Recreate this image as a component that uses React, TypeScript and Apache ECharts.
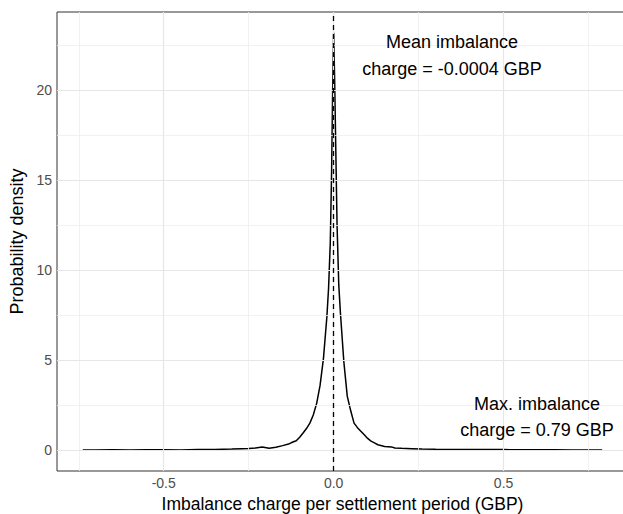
import React, { useEffect, useRef } from "react";
import * as echarts from "echarts";

const densityX = [-0.738, -0.7, -0.65, -0.6, -0.55, -0.5, -0.45, -0.4, -0.35, -0.3, -0.27, -0.25, -0.23, -0.21, -0.19, -0.17, -0.15, -0.13, -0.12, -0.11, -0.1, -0.09, -0.08, -0.07, -0.06, -0.05, -0.04, -0.03, -0.02, -0.015, -0.01, -0.006, -0.003, 0, 0.003, 0.006, 0.01, 0.015, 0.02, 0.03, 0.04, 0.05, 0.06, 0.07, 0.08, 0.09, 0.1, 0.11, 0.12, 0.13, 0.15, 0.17, 0.18, 0.2, 0.23, 0.26, 0.3, 0.35, 0.4, 0.45, 0.5, 0.55, 0.6, 0.65, 0.7, 0.75, 0.79];
const densityY = [0.01, 0.01, 0.02, 0.01, 0.02, 0.02, 0.01, 0.03, 0.04, 0.06, 0.08, 0.09, 0.12, 0.17, 0.11, 0.16, 0.25, 0.36, 0.45, 0.52, 0.72, 0.95, 1.2, 1.5, 1.95, 2.6, 3.6, 5.1, 7.4, 9.0, 11.5, 15.5, 20.0, 23.2, 20.5, 17.0, 12.5, 9.2, 7.6, 4.9, 3.0, 2.2, 1.5, 1.25, 1.05, 0.85, 0.65, 0.5, 0.4, 0.3, 0.2, 0.18, 0.12, 0.1, 0.08, 0.06, 0.05, 0.04, 0.04, 0.03, 0.03, 0.02, 0.02, 0.02, 0.01, 0.01, 0.01];

const meanCharge = -0.0004;
const xMajorTicks = [-0.5, 0, 0.5];
const xMinorTicks = [-0.75, -0.25, 0.25, 0.75];
const yMajorTicks = [0, 5, 10, 15, 20];
const yMinorTicks = [2.5, 7.5, 12.5, 17.5, 22.5];
const annotationMean = ["Mean imbalance", "charge = -0.0004 GBP"];
const annotationMax = ["Max. imbalance", "charge = 0.79 GBP"];

const FONT = "'Liberation Sans', Arial, Helvetica, sans-serif";

export default function App() {
  const ref = useRef<HTMLDivElement>(null);
  useEffect(() => {
    if (!ref.current) return;
    const chart = echarts.init(ref.current, null, { renderer: "svg" });
    const gridLines = [
      ...xMajorTicks.map((v) => ({ xAxis: v, lineStyle: { color: "#e6e6e6", width: 1.2, type: "solid" } })),
      ...xMinorTicks.map((v) => ({ xAxis: v, lineStyle: { color: "#eeeeee", width: 0.8, type: "solid" } })),
      ...yMajorTicks.map((v) => ({ yAxis: v, lineStyle: { color: "#e6e6e6", width: 1.2, type: "solid" } })),
      ...yMinorTicks.map((v) => ({ yAxis: v, lineStyle: { color: "#eeeeee", width: 0.8, type: "solid" } })),
    ];
    chart.setOption({
      animation: false,
      textStyle: { fontFamily: FONT },
      grid: {
        left: 57,
        top: 12,
        right: -5,
        bottom: 43,
        show: true,
        borderColor: "#333333",
        borderWidth: 1,
        backgroundColor: "transparent",
        containLabel: false,
        outerBoundsMode: "none",
      },
      xAxis: {
        type: "value",
        min: -0.814,
        max: 0.866,
        axisLine: { show: false },
        splitLine: { show: false },
        axisTick: { show: true, customValues: xMajorTicks, length: 3.5, lineStyle: { color: "#333333", width: 1 } },
        axisLabel: {
          customValues: xMajorTicks,
          formatter: (v: number) => v.toFixed(1),
          color: "#4d4d4d",
          fontSize: 14,
          margin: 5,
          fontFamily: FONT,
        },
        name: "Imbalance charge per settlement period (GBP)",
        nameLocation: "middle",
        nameGap: 23,
        nameTextStyle: { color: "#000", fontSize: 17.5, fontFamily: FONT },
      },
      yAxis: {
        type: "value",
        min: -1.16,
        max: 24.36,
        axisLine: { show: false },
        splitLine: { show: false },
        axisTick: { show: true, customValues: yMajorTicks, length: 3.5, lineStyle: { color: "#333333", width: 1 } },
        axisLabel: {
          customValues: yMajorTicks,
          formatter: (v: number) => String(v),
          color: "#4d4d4d",
          fontSize: 14,
          margin: 5,
          fontFamily: FONT,
        },
        name: "Probability density",
        nameLocation: "middle",
        nameGap: 31,
        nameTextStyle: { color: "#000", fontSize: 18, fontFamily: FONT },
      },
      series: [
        {
          type: "line",
          data: [],
          z: 1,
          silent: true,
          markLine: { silent: true, symbol: "none", label: { show: false }, data: gridLines },
        },
        {
          type: "line",
          data: densityX.map((x, i) => [x, densityY[i]]),
          showSymbol: false,
          symbol: "none",
          z: 3,
          lineStyle: { color: "#000", width: 1.5 },
          markLine: {
            silent: true,
            symbol: "none",
            label: { show: false },
            data: [{ xAxis: meanCharge }],
            lineStyle: { color: "#000", width: 1.3, type: [5, 4] },
          },
        },
      ],
      graphic: [
        {
          type: "text",
          x: 452,
          y: 55.5,
          z: 100,
          style: {
            text: annotationMean.join("\n"),
            fill: "#000",
            font: `18px ${FONT}`,
            align: "center",
            verticalAlign: "middle",
            lineHeight: 26.5,
          },
        },
        {
          type: "text",
          x: 537,
          y: 417,
          z: 100,
          style: {
            text: annotationMax.join("\n"),
            fill: "#000",
            font: `18px ${FONT}`,
            align: "center",
            verticalAlign: "middle",
            lineHeight: 26.5,
          },
        },
      ],
    });
    return () => chart.dispose();
  }, []);
  return <div ref={ref} style={{ position: "absolute", left: 0, top: 0, width: 623, height: 514 }} />;
}
